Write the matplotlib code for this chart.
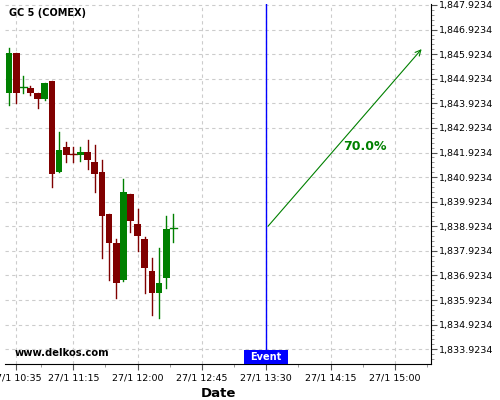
import matplotlib
matplotlib.use("Agg")
import matplotlib.pyplot as plt
from matplotlib.patches import Rectangle
from matplotlib.ticker import FixedLocator, AutoMinorLocator, FuncFormatter

# candle data (5 min bars)
times = ["10:30", "10:35", "10:40", "10:45", "10:50", "10:55", "11:00", "11:05",
         "11:10", "11:15", "11:20", "11:25", "11:30", "11:35", "11:40", "11:45",
         "11:50", "11:55", "12:00", "12:05", "12:10", "12:15", "12:20", "12:25"]
opens = [1844.357, 1845.983, 1844.577, 1844.548, 1844.357, 1844.089, 1844.845, 1841.144,
         1842.161, 1841.864, 1841.836, 1841.945, 1841.539, 1841.132, 1839.424, 1838.244,
         1836.752, 1840.237, 1839.017, 1838.407, 1837.106, 1836.223, 1836.834, 1838.842]
highs = [1846.162, 1845.983, 1845.023, 1844.630, 1844.357, 1844.751, 1844.845, 1842.771,
         1842.340, 1842.161, 1842.137, 1842.433, 1842.230, 1841.620, 1839.424, 1838.420,
         1840.847, 1840.237, 1839.627, 1838.501, 1837.622, 1838.029, 1839.342, 1839.412]
lows = [1843.845, 1843.926, 1844.333, 1844.251, 1843.722, 1844.060, 1840.510, 1841.120,
        1841.527, 1841.527, 1841.592, 1841.254, 1840.306, 1837.622, 1836.728, 1835.996,
        1836.700, 1838.704, 1837.919, 1836.199, 1835.316, 1835.182, 1836.403, 1838.298]
closes = [1845.983, 1844.357, 1844.577, 1844.357, 1844.089, 1844.751, 1841.063, 1842.027,
          1841.836, 1841.864, 1841.933, 1841.632, 1841.063, 1839.355, 1838.257, 1836.630,
          1840.318, 1839.151, 1838.541, 1837.240, 1836.223, 1836.618, 1838.814, 1838.842]
# 1 = up (green), 0 = down (red)
up = [1, 0, 1, 0, 0, 1, 0, 1, 0, 0, 1, 0, 0, 0, 0, 0, 1, 0, 0, 0, 0, 1, 1, 1]

event_time = "13:30"
arrow_end_time = "15:20"
arrow_end_price = 1846.215
prob_label = "70.0%"
prob_time = "14:39"
prob_price = 1842.15

xtick_times = ["10:35", "11:15", "12:00", "12:45", "13:30", "14:15", "15:00"]
ytick_values = [1833.9234 + i for i in range(15)]


def to_min(t):
    h, m = t.split(":")
    return int(h) * 60 + int(m)


GREEN = "#008000"
RED = "#800000"

fig = plt.figure(figsize=(5, 4), dpi=100)
ax = fig.add_axes([0.01, 0.09, 0.852, 0.90])

width = 4.7
for i in range(len(times)):
    x = to_min(times[i])
    c = GREEN if up[i] else RED
    ax.plot([x, x], [lows[i], highs[i]], color=c, lw=1, zorder=3)
    lo = min(opens[i], closes[i])
    h = abs(closes[i] - opens[i])
    if h < 0.03:
        ax.plot([x - width / 2, x + width / 2], [opens[i], opens[i]], color=c, lw=1, zorder=3)
    else:
        ax.bar(x, h, bottom=lo, width=width, color=c, zorder=3, linewidth=0)

ex = to_min(event_time)
ax.axvline(ex, color="#0000ff", lw=1, zorder=4)
ax.annotate("", xy=(to_min(arrow_end_time), arrow_end_price), xytext=(ex, closes[-1]),
            arrowprops=dict(arrowstyle="->", color=GREEN, lw=0.8), zorder=5)
ax.text(to_min(prob_time), prob_price, prob_label, color=GREEN, fontsize=9,
        fontweight="bold", ha="center", va="center")

ax.set_xlim(to_min("10:27") + 0.2, to_min("15:25") + 0.3)
ax.set_ylim(1833.324, 1847.964)

ax.xaxis.set_major_locator(FixedLocator([to_min(t) for t in xtick_times]))
ax.set_xticklabels(["27/1 " + t for t in xtick_times])
minor_x = [to_min("10:52") + 0.5] + [to_min(t) + 22.5 for t in xtick_times[1:]]
ax.xaxis.set_minor_locator(FixedLocator(minor_x))

ax.yaxis.tick_right()
ax.yaxis.set_major_locator(FixedLocator(ytick_values))
ax.yaxis.set_major_formatter(FuncFormatter(lambda v, p: "{:,.4f}".format(v)))
ax.yaxis.set_minor_locator(AutoMinorLocator(5))

ax.tick_params(axis="both", which="major", labelsize=6.8, length=4, color="#555555", pad=1.5)
ax.tick_params(axis="x", which="major", pad=3)
ax.tick_params(axis="both", which="minor", length=2, color="#888888")

ax.spines["left"].set_visible(False)
ax.spines["top"].set_visible(False)
ax.spines["right"].set_color("black")
ax.spines["bottom"].set_color("black")

ax.grid(True, which="major", color="#cccccc", linestyle=(0, (3, 3)), lw=0.8)
ax.set_axisbelow(True)

ax.set_xlabel("Date", fontsize=9.5, fontweight="bold", labelpad=3)

ax.text(0.01, 0.975, "GC 5 (COMEX)", transform=ax.transAxes, fontsize=7,
        fontweight="bold", va="center", ha="left")
ax.text(0.022, 0.03, "www.delkos.com", transform=ax.transAxes, fontsize=7.2,
        fontweight="bold", va="center", ha="left")

# event marker box at the bottom of the event line
box_w = 30.8
ax.add_patch(Rectangle((ex - box_w / 2, 0), box_w, 0.039, transform=ax.get_xaxis_transform(),
                       facecolor="#0000ff", edgecolor="none", zorder=6, clip_on=False))
ax.text(ex, 0.0195, "Event", transform=ax.get_xaxis_transform(), fontsize=7,
        fontweight="bold", color="white", ha="center", va="center", zorder=7)

fig.savefig("out.png", dpi=100)
